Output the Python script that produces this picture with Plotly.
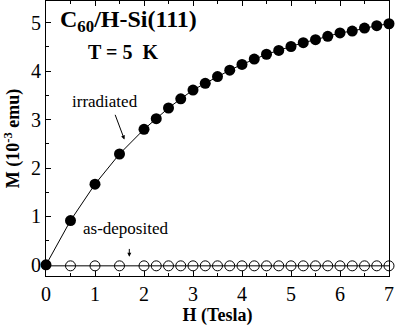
import plotly.graph_objects as go

H_irr = [0, 0.5, 1.0, 1.5, 2.0, 2.25, 2.5, 2.75, 3.0, 3.25, 3.5, 3.75, 4.0, 4.25, 4.5,
         4.75, 5.0, 5.25, 5.5, 5.75, 6.0, 6.25, 6.5, 6.75, 7.0]
M_irr = [0.0, 0.915, 1.667, 2.29, 2.80, 3.02, 3.24, 3.43, 3.61, 3.75, 3.89, 4.02, 4.14, 4.25, 4.35,
         4.43, 4.51, 4.59, 4.65, 4.72, 4.79, 4.83, 4.89, 4.94, 4.98]
H_dep = [0.5, 1.0, 1.5, 2.0, 2.25, 2.5, 2.75, 3.0, 3.25, 3.5, 3.75, 4.0, 4.25, 4.5,
         4.75, 5.0, 5.25, 5.5, 5.75, 6.0, 6.25, 6.5, 6.75, 7.0]
M_dep = [-0.02] * len(H_dep)
H_dep0 = [0.0] + H_dep
M_dep0 = [-0.02] + M_dep

FONT = "Liberation Serif"

fig = go.Figure()
fig.add_trace(go.Scatter(x=H_dep0, y=M_dep0, mode="lines", line=dict(color="black", width=1),
                         showlegend=False, cliponaxis=False))
fig.add_trace(go.Scatter(x=H_dep, y=M_dep, mode="markers",
                         marker=dict(symbol="circle-open", size=10, color="black", line=dict(width=1)),
                         showlegend=False, cliponaxis=False))
fig.add_trace(go.Scatter(x=H_irr, y=M_irr, mode="lines+markers", line=dict(color="black", width=1),
                         marker=dict(symbol="circle", size=11, color="black"),
                         showlegend=False, cliponaxis=False))

fig.add_annotation(x=1.2, y=3.37, text="irradiated", showarrow=False,
                   font=dict(family=FONT, size=17, color="black"))
fig.add_annotation(x=1.6, y=2.59, ax=1.4, ay=3.13, axref="x", ayref="y", xref="x", yref="y",
                   text="", showarrow=True, arrowhead=2, arrowsize=0.8, arrowwidth=1, arrowcolor="black")
fig.add_annotation(x=1.62, y=0.75, text="as-deposited", showarrow=False,
                   font=dict(family=FONT, size=17, color="black"))
fig.add_annotation(x=1.7, y=0.17, ax=1.7, ay=0.36, axref="x", ayref="y", xref="x", yref="y",
                   text="", showarrow=True, arrowhead=2, arrowsize=0.8, arrowwidth=1, arrowcolor="black")
fig.add_annotation(x=0.24, y=5.03, xanchor="left", text="<b>C<sub>60</sub>/H-Si(111)</b>", showarrow=False,
                   font=dict(family=FONT, size=24, color="black"))
fig.add_annotation(x=0.82, y=4.4, xanchor="left", text="<b>T = 5  K</b>", showarrow=False,
                   font=dict(family=FONT, size=20, color="black"))

fig.update_layout(
    template="none",
    width=395, height=327,
    margin=dict(l=46, r=6, t=1, b=51),
    plot_bgcolor="white", paper_bgcolor="white",
    font=dict(family=FONT, size=18, color="black"),
)
fig.update_xaxes(range=[0, 7], dtick=1, ticks="inside", ticklen=5, tickcolor="black",
                 tickfont=dict(family=FONT, size=20, color="black"),
                 showline=True, linecolor="black", linewidth=1, mirror="allticks",
                 showgrid=False, zeroline=False,
                 minor=dict(dtick=0.5, ticks="inside", ticklen=3, tickcolor="black", showgrid=False),
                 title=dict(text="<b>H (Tesla)</b>", font=dict(family=FONT, size=18), standoff=3))
fig.update_yaxes(range=[-0.23, 5.45], dtick=1, ticks="inside", ticklen=5, tickcolor="black",
                 tickfont=dict(family=FONT, size=20, color="black"),
                 showline=True, linecolor="black", linewidth=1, mirror=True,
                 showgrid=False, zeroline=False,
                 minor=dict(dtick=0.5, ticks="inside", ticklen=3, tickcolor="black", showgrid=False),
                 title=dict(text="<b>M (10<sup>-3</sup> emu)</b>", font=dict(family=FONT, size=18), standoff=6))

fig.write_html("out.html", config={"displayModeBar": False},
               post_script="document.body.style.margin='0';document.body.style.overflow='hidden';")
